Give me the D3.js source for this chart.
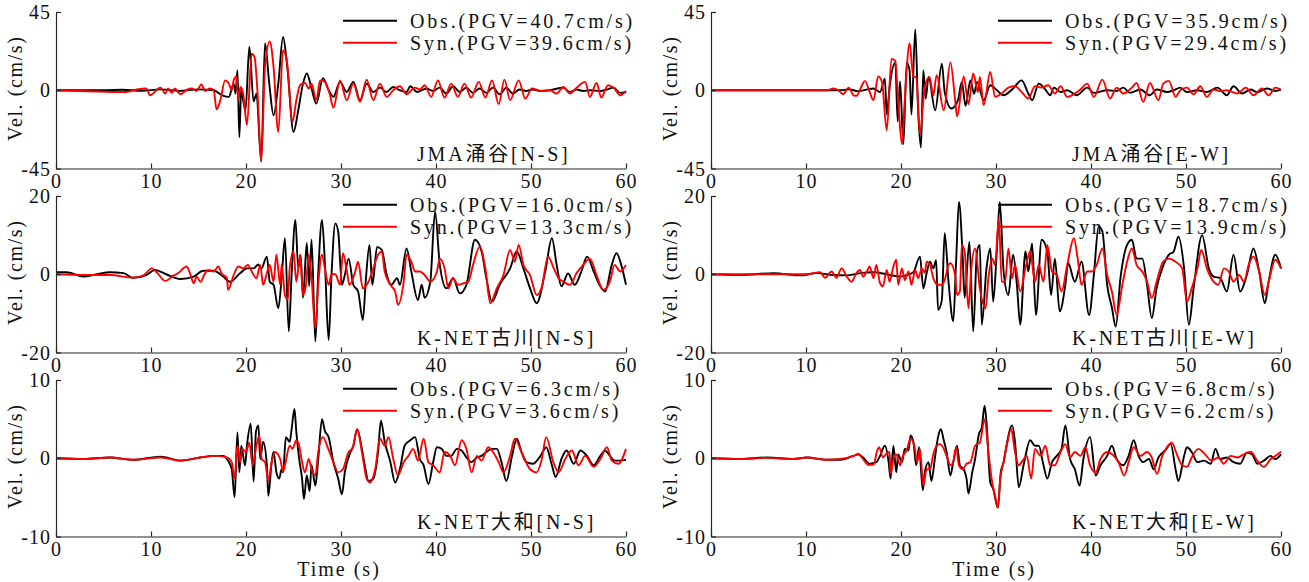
<!DOCTYPE html>
<html>
<head>
<meta charset="utf-8">
<script src="https://cdn.jsdelivr.net/npm/d3@7"></script>
<style>
  body { margin: 0; background: #fff; }
  svg text {
    font-family: "Liberation Serif", "Times New Roman", "Noto Sans CJK JP", serif;
    font-size: 20px;
    fill: #111;
  }
</style>
</head>
<body>
<svg id="chart" width="1309" height="582"></svg>
<script>
// time axis ticks (s)
const xTicks = [0, 10, 20, 30, 40, 50, 60];

// one entry per panel, reading order (row by row, left then right)
const stations = ["JMA涌谷[N-S]", "JMA涌谷[E-W]", "K-NET古川[N-S]", "K-NET古川[E-W]", "K-NET大和[N-S]", "K-NET大和[E-W]"];
const yLimits = [45, 45, 20, 20, 10, 10];
const obsPgv = ["40.7", "35.9", "16.0", "18.7", "6.3", "6.8"];
const synPgv = ["39.6", "29.4", "13.3", "13.9", "3.6", "6.2"];

// velocity traces: [time (s), velocity (cm/s)]
const jmaNsObs = [[0,0],[5,0],[7,0.3],[9,-0.3],[11,0.5],[13,-0.4],[15,0.5],[16.6,0],[17.5,-2.9],[18.2,-3.8],[18.7,3.8],[18.9,-1.9],[19.1,11.5],[19.3,-27],[19.5,1.5],[19.7,-5.7],[19.95,-11.5],[20.35,25],[20.8,-6.5],[21.1,-2],[21.6,-41],[22.0,27],[22.45,3.8],[22.9,-14.4],[23.4,3.8],[23.9,30.6],[24.35,13],[25.0,-24],[25.5,-11.5],[26.0,3.8],[26.4,9.6],[26.9,1],[27.4,-7.7],[28.1,7],[28.7,0],[29.2,-3.8],[29.9,4.8],[30.6,-1],[31.3,4.8],[32.0,-5.7],[32.7,3.8],[33.4,-1],[34.1,1.5],[34.8,-1],[35.5,1.9],[36.2,0],[36.9,-1],[37.3,2.3],[38.0,-1],[39.0,1],[39.7,-0.4],[40.4,1.5],[41.1,-1.9],[41.8,2.3],[42.5,-1],[43.2,1.5],[43.9,-1.5],[44.6,1],[45.3,-1.5],[46.0,1.5],[46.7,-2.3],[47.4,1.5],[48.1,-1.9],[48.8,0.4],[49.5,-0.4],[50.2,0.4],[51.0,-0.4],[52.0,0],[53.4,1.5],[54.1,-1],[54.8,0.4],[55.5,-0.4],[56.2,0],[57.3,-0.4],[58.0,0.4],[58.7,1.5],[59.4,-1.5],[60,-1]];
const jmaNsSyn = [[0,0],[7.4,-1],[8.5,0.4],[9.5,1],[9.9,-2.9],[11.0,1.5],[11.5,-1.9],[11.8,1],[12.2,-1.5],[12.5,1],[13.1,-2.3],[13.8,0.4],[14.3,1],[14.8,-0.4],[15.3,3.4],[15.7,-0.4],[16.2,1],[16.6,0],[16.9,-11],[17.3,-5.7],[17.8,5.7],[18.2,3.8],[18.5,0],[18.7,5.7],[19.0,8],[19.2,-5.7],[19.4,1.9],[19.7,-1.9],[20.1,-20],[20.6,21],[20.9,19],[21.2,0],[21.6,-41],[22.0,13.4],[22.5,28],[22.9,13.4],[23.4,-24],[23.9,23],[24.3,17],[24.9,-18],[25.3,-5.7],[25.7,3],[26.2,4.2],[26.6,1],[26.9,3.8],[27.4,-5.7],[27.8,5.7],[28.3,4.8],[28.8,-1.9],[29.2,-10],[29.9,5.7],[30.6,-5.7],[31.3,3.8],[32.0,-6.7],[32.7,6],[33.4,-5.7],[34.1,3.8],[34.8,-3.8],[35.5,0],[36.2,2.3],[36.9,-2.3],[37.8,1.5],[38.3,0.4],[38.8,2.9],[39.5,-3.8],[40.2,5.7],[40.9,-4.2],[41.6,3.8],[42.3,-3.8],[43.0,3.8],[43.7,-4.2],[44.5,4.8],[45.2,-4.2],[45.9,5.7],[46.6,-8],[47.2,6.1],[47.8,-5.7],[48.7,5.7],[49.4,-4.8],[50.1,1],[51.0,-0.4],[52.0,0],[52.7,-1.9],[53.4,1.9],[54.1,-1.9],[54.8,1.5],[55.7,4.8],[56.2,-3.8],[56.9,4.2],[57.4,-4.2],[58.1,2.9],[58.7,1.5],[59.4,-2.9],[60,-0.4]];

const jmaEwObs = [[0,0],[10,0],[13.6,0],[14.5,0.5],[15.5,-0.5],[16.5,0.5],[17.1,1],[17.8,-1],[18.3,6.7],[18.5,-14],[18.8,1.9],[19.4,16],[19.65,-18],[19.9,5],[20.25,-31],[20.6,16],[20.9,11.5],[21.1,-14],[21.5,35],[21.8,-11.5],[22.1,-33],[22.35,11.5],[22.6,-4.8],[22.9,7.7],[23.6,-11.5],[24.3,15.3],[24.6,-1],[25.3,-10.5],[26.0,-5.7],[26.4,4.8],[26.8,-9],[27.3,5.7],[27.7,-2],[28.0,4.8],[28.7,-5.7],[29.4,2.9],[30.1,0],[30.8,-2.9],[31.8,1],[32.7,5.7],[33.4,-1.9],[33.8,-5.7],[34.5,3.8],[35.2,0.4],[35.7,-2.9],[36.1,1.5],[36.8,-1],[37.5,0],[38.5,-2.9],[39.6,1.5],[40.3,-1.5],[41.7,0],[42.7,-0.4],[43.4,1.5],[44.1,-1.5],[45.2,0.4],[46.2,-2.9],[46.9,0.4],[48.0,-1],[48.7,0],[49.4,1.5],[50.1,-1.1],[51.2,0],[52.2,-1],[53.3,1.5],[54.3,-2.9],[55.0,2.3],[55.9,-1.9],[56.8,0.4],[57.5,-1.1],[58.5,1],[59.4,-0.4],[60,0.4]];
const jmaEwSyn = [[0,0],[12.2,0],[12.9,1],[13.4,0],[13.9,-2.3],[14.5,1.5],[15.0,-2.9],[15.3,-3.2],[15.9,2.9],[16.2,5.4],[16.7,-1],[17.1,-5.7],[17.6,8],[18.0,4.8],[18.5,-23],[19.0,18],[19.4,17],[19.7,-5.7],[20.1,-31],[20.4,-5.7],[20.9,27],[21.3,7.7],[21.6,7.7],[22.0,-25],[22.5,1.9],[23.0,7.7],[23.4,-2.9],[23.75,8.6],[24.5,-11.5],[25.2,16],[25.7,-5.7],[25.9,-15],[26.6,8],[27.1,-8],[27.6,9.6],[28.1,-1],[28.3,7.7],[28.7,-8.6],[29.4,10.5],[29.9,-3.8],[30.6,-1.9],[31.3,1.5],[32.0,2.3],[32.7,-1],[33.4,-4.8],[34.1,2.3],[34.8,1.5],[35.5,2.9],[36.2,-1.9],[36.8,2.3],[37.5,-3.8],[38.3,-1.9],[39.0,1],[39.6,3.8],[40.3,-3.8],[41.2,6.1],[42.0,-4.8],[42.7,1.5],[43.4,-1.9],[44.3,1.5],[44.8,4.2],[45.5,-6.7],[46.2,4.2],[47.1,-5.7],[47.6,3.8],[48.2,5.4],[48.9,-3.8],[49.4,0],[50.1,1.5],[50.8,-2.3],[51.5,2.3],[52.2,-3.8],[52.9,0.4],[53.6,-0.4],[54.3,0],[55.4,-1.9],[56.3,1.5],[57.1,-2.9],[58.0,1],[58.7,-2.9],[59.4,1.5],[60,0.4]];

const furuNsObs = [[0,0.5],[1.1,0.5],[2.9,-0.6],[4.3,0],[5.7,0.5],[7.1,0.3],[8.1,-0.9],[9.5,-0.2],[10.4,1.1],[11.6,0],[13.1,-1.2],[14.5,-0.6],[15.5,0.9],[16.6,0.9],[17.6,-0.6],[18.3,-1.9],[19.4,0.3],[20.1,1.5],[20.8,1.5],[21.3,2.5],[21.6,1.4],[22.2,4.5],[22.5,-1.9],[22.9,-2.7],[23.4,-8.7],[23.75,-1],[24.1,9.2],[24.5,-14.6],[24.8,-0.2],[25.2,13.9],[25.5,1.5],[25.75,4.9],[26.0,-6],[26.4,8],[26.65,-3],[26.9,8.8],[27.3,-17.2],[27.6,0],[28.0,13.9],[28.3,3.2],[28.7,-16.8],[29.0,-0.2],[29.4,13],[29.7,11],[30.1,-2.7],[30.4,-0.2],[30.8,4],[31.3,-2.7],[31.8,-4.4],[32.3,-11.7],[32.6,-1.9],[33.0,7.5],[33.3,-2.7],[33.8,7],[34.3,6.2],[34.8,0],[35.3,-2.7],[35.9,-1],[36.2,-2.7],[36.9,6.6],[37.4,0.7],[38.1,-6.6],[38.5,-2.7],[38.8,-6],[39.4,-1.9],[39.9,16],[40.4,2.4],[41.1,-3.6],[41.8,-1],[42.5,-4.9],[43.2,-2.7],[44.1,8.8],[44.8,5.8],[45.3,-1],[45.9,-7],[46.7,-2.7],[47.8,1.5],[48.5,5.8],[49.2,1.5],[49.9,-3.6],[50.6,-7.4],[51.5,0.7],[52.2,9.2],[52.7,2.4],[53.2,-3.1],[53.9,0.2],[54.6,-2.7],[55.3,0.7],[55.9,4.5],[56.6,0.7],[57.3,-3.1],[57.8,-4.4],[58.5,2.4],[59.0,5.4],[59.5,2.4],[60,-2.7]];
const furuNsSyn = [[0,0],[3.2,-0.2],[5.7,-0.2],[8.1,-0.9],[9.2,-0.3],[10.1,1.5],[10.6,0.5],[11.5,-1.7],[12.4,-0.3],[12.9,0.3],[13.4,1.5],[13.75,2],[14.1,0.3],[14.5,-2.3],[14.8,-0.6],[15.2,-1.9],[15.7,0.3],[16.0,1.1],[16.6,0.7],[17.1,2],[17.4,0.3],[18.0,-1],[18.1,-4],[18.7,-0.2],[19.2,2],[19.7,1.5],[20.2,2.4],[20.6,0.7],[21.1,-1],[21.5,2.4],[21.8,-2.7],[22.2,0.3],[22.5,2.4],[22.9,-1.9],[23.2,5],[23.6,-2.7],[23.75,2.4],[24.1,-5.3],[24.4,-6.5],[24.6,1.5],[25.0,5.8],[25.3,-1.9],[25.7,5],[26.0,-5.3],[26.3,-3],[26.6,5],[26.9,-1],[27.3,-13.8],[27.6,-2.7],[28.0,5],[28.3,1.5],[28.7,-2.7],[29.0,0],[29.4,0],[29.9,-2.7],[30.2,5.4],[30.6,1.1],[30.9,-2.7],[31.5,0.7],[31.8,3.2],[32.3,-3.6],[32.9,-1.9],[33.4,1.5],[33.9,5],[34.3,5.8],[34.6,0.7],[35.2,-2.7],[35.7,-4.4],[36.0,-7.8],[36.6,-1.9],[36.9,5],[37.4,3.2],[37.8,0.7],[38.3,0.7],[38.8,-0.2],[39.4,-1.9],[40.1,0.7],[40.4,4],[40.9,1.5],[41.3,-3.6],[41.8,-1],[42.3,-2.7],[42.9,-2.3],[43.4,-1.9],[43.9,2.4],[44.6,7],[45.2,1.5],[45.7,-7.4],[46.4,-3.6],[47.1,-0.2],[47.8,6.2],[48.3,3.2],[48.7,7.5],[49.2,2.4],[49.9,-0.2],[50.6,-5.3],[51.1,-3.6],[51.8,4.5],[52.4,1.5],[52.9,-1],[53.4,-1.9],[54.1,-2.7],[54.8,0.3],[55.5,2.4],[56.2,4],[56.9,-0.2],[57.6,-4],[58.3,-1.9],[58.8,2.4],[59.4,0.7],[60,2.4]];

const furuEwObs = [[0,0],[3.1,-0.2],[6.6,0.3],[9.4,-0.3],[11.1,0.3],[12.9,-0.2],[14.3,-0.3],[15.7,0.3],[17.1,0.5],[18.5,0],[19.9,-0.6],[20.6,-0.2],[21.3,0.5],[22.0,4.5],[22.35,-3.6],[22.7,0.3],[23.05,3.2],[23.4,1.5],[23.7,3.6],[23.9,-9.1],[24.3,-6.6],[24.6,10.5],[25.0,-1.9],[25.5,-12],[25.8,3.2],[26.1,18.5],[26.5,4],[26.7,-6],[27.2,8.3],[27.6,-14.6],[28.0,5.8],[28.3,7.5],[28.5,-12.9],[29.0,1.5],[29.4,6.6],[29.7,-7],[30.1,6.6],[30.4,18.5],[30.8,0.7],[31.3,-5.3],[31.8,5],[32.2,-2.7],[32.55,-12.9],[33.1,5.8],[33.4,0.7],[33.8,7.9],[34.2,-10.4],[34.8,8.8],[35.4,5.8],[35.8,-5.3],[36.2,4],[36.7,-9.5],[37.3,-2.7],[37.6,2.8],[38.3,-1.9],[39.0,3.2],[39.8,-10.4],[40.3,-0.2],[40.8,12.2],[41.2,10.9],[41.7,-2.7],[42.2,-8.5],[42.6,-13.4],[43.1,-1],[43.8,7.5],[44.3,8.8],[44.8,4],[45.4,4],[45.9,-2.7],[46.4,-11.2],[46.9,-3.6],[47.5,1.5],[48.2,5],[48.7,5.8],[49.2,9.6],[49.8,1.5],[50.3,-12.9],[50.8,-3.6],[51.7,10],[52.4,1.5],[52.9,-0.6],[53.6,-1],[54.3,-4.4],[55.0,5],[55.7,-4.4],[56.4,-0.2],[57.1,6.6],[57.7,0.7],[58.3,-7.4],[58.7,-1.9],[59.4,5],[60,1.5]];
const furuEwSyn = [[0,0],[10.1,0],[11.5,0.5],[12.0,-0.9],[12.7,0.7],[13.2,-0.9],[13.75,1.5],[14.3,-0.6],[14.8,-1.9],[15.3,0.3],[15.7,1.1],[16.0,-0.6],[16.4,0.7],[16.7,2],[17.1,-1],[17.4,2.4],[17.8,-2.3],[18.1,-3.1],[18.5,1.1],[18.8,-1.9],[19.2,2],[19.5,3.7],[19.7,-2.7],[20.1,1.5],[20.4,-1.5],[20.8,0.7],[21.1,-2.7],[21.5,1.1],[21.8,-1],[22.2,1.5],[22.5,0.3],[22.7,3.2],[23.05,2.4],[23.4,-1],[23.9,-2.7],[24.3,-2.7],[24.6,-1.5],[25.0,2.4],[25.2,2.8],[25.7,-0.2],[25.9,-5.3],[26.2,-4.4],[26.4,7.5],[26.7,5.8],[27.1,-8.7],[27.4,1.5],[27.8,6.6],[28.3,-3.6],[28.9,-8.7],[29.2,-1],[29.6,4],[29.9,2.4],[30.3,14.3],[30.6,-1.9],[30.97,-1.9],[31.3,6.6],[31.7,-1],[32.0,2.4],[32.55,-4.4],[33.1,1.5],[33.6,5.8],[34.1,-1.9],[34.5,2.4],[35.0,-1.9],[35.4,7.5],[35.9,0.7],[36.4,-0.2],[36.9,-4.4],[37.5,2.4],[38.2,9.2],[38.6,4],[39.0,-2.7],[39.6,0.7],[40.1,0.7],[40.6,2.4],[41.2,6.6],[41.7,-0.2],[42.2,-4.4],[42.7,-10.4],[43.3,-2.7],[43.8,3.2],[44.3,6.6],[44.8,2.4],[45.4,0.7],[45.9,-1.9],[46.4,-6.1],[46.9,-1.9],[47.6,3.2],[48.2,4],[48.9,3.2],[49.6,1.5],[50.1,-7],[50.6,-3.6],[51.2,1.5],[51.6,6.2],[52.2,1.5],[52.9,-1.9],[53.4,-2.7],[54.0,1.5],[54.5,0.7],[55.0,-1.9],[55.6,-0.2],[56.1,-1.9],[56.6,2.4],[57.1,4.5],[57.7,0.7],[58.3,-5.3],[58.7,-1.9],[59.4,3.7],[60,1.5]];

const yamaNsObs = [[0,0],[2.9,-0.1],[5.7,0.1],[8.1,-0.2],[11.0,0.2],[13.1,-0.3],[15.2,0.1],[16.6,0.3],[17.6,0.3],[18.1,-0.3],[18.5,-1.4],[18.8,-5],[19.1,3.3],[19.3,-1.8],[19.5,1.6],[19.9,-0.9],[20.1,1.6],[20.5,4.4],[20.8,-3],[21.05,3.4],[21.3,4.2],[21.5,-0.1],[21.8,2.1],[22.2,-0.9],[22.35,-4.8],[22.7,-0.5],[22.9,0.8],[23.2,-1.8],[23.5,-2.6],[23.75,-1.4],[23.9,-1.8],[24.2,2.7],[24.6,2.1],[24.8,3.7],[25.1,6.3],[25.3,3.3],[25.6,-0.1],[25.9,-2.6],[26.1,-5.2],[26.4,-2.2],[26.7,-4.2],[26.9,-0.9],[27.3,-3.5],[27.6,-0.1],[28.0,5],[28.3,3.5],[28.7,2.7],[29.2,-0.5],[29.7,-2.6],[30.1,-4.6],[30.4,-1.8],[31.0,0.8],[31.3,1.6],[31.7,3.7],[32.2,1.2],[32.5,-0.9],[32.9,-2.9],[33.4,-2.6],[33.9,0.8],[34.2,4.8],[34.6,2.1],[35.2,-0.5],[35.7,-3.1],[36.2,-1.4],[36.7,1.6],[37.3,2.3],[37.8,2.7],[38.3,-0.1],[38.7,-0.9],[39.2,-3.3],[39.7,-0.5],[40.1,1.4],[40.6,1.2],[41.1,0.3],[41.6,0.3],[42.2,1.2],[42.7,1],[43.2,0.1],[43.75,-0.5],[44.3,0.1],[44.8,0.3],[45.3,0.8],[45.9,1.2],[46.4,1.2],[46.9,-0.5],[47.4,-2.9],[48.0,0.3],[48.5,2.5],[49.0,0.8],[49.5,-0.5],[50.2,-0.7],[51.0,0.3],[51.6,1.4],[52.2,-0.9],[52.6,-2.4],[53.2,-0.1],[53.75,1],[54.5,-0.7],[55.2,1],[55.9,0.3],[56.6,-0.9],[57.3,0.3],[57.8,1],[58.3,0.3],[58.8,-0.3],[59.4,-0.3],[60,-0.2]];
const yamaNsSyn = [[0,0],[2.9,-0.1],[5.7,0.1],[8.1,-0.2],[11.0,0.1],[13.1,-0.3],[15.2,0.1],[16.9,0.3],[18.0,0.1],[18.5,-0.5],[18.8,-2.6],[19.1,1.6],[19.4,-0.5],[19.6,1.2],[20.0,0.8],[20.35,2],[20.7,-0.9],[21.1,1.6],[21.4,2.9],[21.65,-0.1],[22.0,-0.5],[22.35,-2.9],[22.7,-0.5],[23.05,0.8],[23.6,-0.1],[23.9,-1.7],[24.1,-0.9],[24.6,1.6],[24.9,1.2],[25.3,2.3],[25.6,1.6],[25.9,-0.5],[26.2,-1.8],[26.6,-0.1],[26.9,-1.4],[27.3,-2.2],[27.6,0.8],[28.1,2.7],[28.6,1.4],[29.2,-0.5],[29.7,-1.8],[30.2,-1.4],[30.8,0.8],[31.2,1.2],[31.7,3.7],[32.2,0.8],[32.7,-2.6],[33.05,-3.1],[33.6,-1.4],[34.1,2.5],[34.6,1.6],[35.0,2.7],[35.5,-0.1],[36.0,-2.2],[36.6,-0.5],[37.1,0.3],[37.6,1.2],[38.1,-0.3],[38.7,2.5],[39.2,-0.5],[39.7,-0.9],[40.4,-1.8],[40.9,0.8],[41.5,0.3],[42.0,-0.9],[42.7,2.3],[43.2,1.2],[43.75,-1.8],[44.3,0.3],[44.8,-0.3],[45.5,1.4],[46.0,0.8],[46.6,-0.5],[47.1,-1.8],[47.8,0.3],[48.3,2.5],[49.0,0.8],[49.9,-1.4],[50.6,-1.8],[51.1,-0.3],[51.6,2.7],[52.35,-0.5],[52.9,-1.8],[53.6,-0.1],[54.3,1],[55.0,-0.9],[55.7,0.3],[56.6,-1.1],[57.3,-0.1],[58.0,1.4],[58.5,-0.3],[59.2,-0.7],[60,1.2]];

const yamaEwObs = [[0,0],[3.05,-0.1],[5.9,0.1],[8.7,-0.1],[10.1,0.1],[12.2,-0.2],[13.6,-0.2],[15.0,0.3],[15.5,0.5],[16.0,0.1],[16.7,-0.7],[17.4,-0.5],[17.8,0.3],[18.3,1.6],[18.7,-0.5],[18.9,-2.6],[19.2,1.6],[19.5,-1.8],[19.7,0.5],[20.1,-0.5],[20.4,1.2],[20.8,1],[21.0,2.9],[21.3,2.1],[21.6,-0.9],[21.9,1.4],[22.3,-4.1],[22.5,-1.8],[22.9,-0.5],[23.2,-2.9],[23.6,0.3],[23.9,2.7],[24.2,3.7],[24.5,2.3],[24.8,0.8],[25.2,-2.2],[25.5,-0.5],[25.9,1.6],[26.2,-0.9],[26.6,-1.4],[26.9,-2.6],[27.1,-4.5],[27.5,-1.8],[27.8,-0.1],[28.2,3.1],[28.5,3.9],[28.8,6.7],[29.0,4.6],[29.4,-3.1],[29.7,-3.9],[30.2,-6.3],[30.5,-1.8],[30.8,-0.5],[31.1,1.6],[31.7,4.2],[32.0,2.1],[32.4,-3.7],[32.9,-0.9],[33.6,2.3],[34.1,1.6],[34.5,1.6],[35.0,-0.9],[35.4,-2.6],[35.9,-0.5],[36.4,0.3],[36.9,1.2],[37.3,4.2],[37.8,-0.1],[38.3,-1.4],[38.8,-3.5],[39.2,-0.1],[39.9,2.7],[40.5,-2.2],[41.0,-0.9],[41.7,0.3],[42.2,1.6],[42.7,-0.1],[43.4,-0.9],[43.96,0.3],[44.5,2.3],[45.0,0.3],[45.5,-0.5],[46.1,-0.1],[46.6,-1.4],[47.1,0.1],[47.8,1],[48.4,1.8],[48.9,-1.4],[49.2,-2.9],[49.8,0.3],[50.1,1.4],[50.6,0.8],[51.2,-0.5],[51.9,-0.3],[52.6,-0.7],[53.1,1.2],[53.6,-0.1],[54.3,0.1],[55.0,-0.5],[55.7,-0.7],[56.4,0.7],[56.96,0.5],[57.5,-0.7],[58.2,-0.3],[58.9,0.3],[59.4,-0.1],[60,0.5]];
const yamaEwSyn = [[0,0],[3.05,-0.1],[5.9,0.05],[8.7,-0.1],[10.1,0.1],[12.2,-0.2],[13.6,-0.1],[15.0,0.3],[15.5,0.55],[16.0,-0.1],[16.6,-0.85],[17.1,-0.85],[17.5,1],[17.7,1.4],[18.1,0.1],[18.4,0.5],[18.8,0.8],[18.9,-2],[19.2,-0.1],[19.5,0.5],[19.9,-0.9],[20.2,0.3],[20.6,1],[21.0,2.5],[21.4,1.6],[21.7,-0.5],[22.0,1.2],[22.35,-3.5],[22.7,-1.4],[23.05,-1.4],[23.4,0.5],[23.75,1.6],[24.1,1.8],[24.5,1.2],[24.8,0.3],[25.2,-0.9],[25.5,-0.5],[25.8,1.4],[26.1,-0.9],[26.5,-1.4],[26.9,-0.7],[27.3,-0.5],[27.8,1.6],[28.3,2],[28.8,5],[29.2,0.8],[29.6,-3.1],[29.9,-4.8],[30.2,-6.3],[30.45,-2.6],[30.8,-0.5],[31.1,1.4],[31.6,3.7],[32.0,0.8],[32.4,-0.9],[32.7,-0.5],[33.25,0.3],[33.7,-2.6],[34.1,1.2],[34.7,0.3],[35.2,1.6],[35.7,-0.9],[36.2,-0.9],[36.8,0.8],[37.3,1.8],[37.8,0.1],[38.3,0.8],[38.9,0.3],[39.4,1.4],[39.9,-0.9],[40.5,-1.8],[41.0,-0.1],[41.7,0.8],[42.4,0.3],[42.9,-0.5],[43.5,-2.2],[43.96,-0.5],[44.5,1.4],[45.2,0.3],[45.9,0.8],[46.4,0.1],[46.95,-2],[47.5,0.3],[48.0,1.4],[48.5,2],[49.1,0.3],[49.6,-0.9],[50.1,-1.1],[50.6,0.1],[51.3,1.2],[52.0,0.5],[52.7,-0.3],[53.4,0.1],[53.97,-0.7],[54.7,0.3],[55.4,0.1],[56.1,0.5],[56.8,0.85],[57.5,-0.3],[58.2,-1.1],[58.9,-0.1],[59.4,0.3],[60,0.85]];

const obsTraces = [jmaNsObs, jmaEwObs, furuNsObs, furuEwObs, yamaNsObs, yamaEwObs];
const synTraces = [jmaNsSyn, jmaEwSyn, furuNsSyn, furuEwSyn, yamaNsSyn, yamaEwSyn];

// layout
const colX = [[56, 626], [711, 1281]];
const rowY = [[12, 168.5], [196, 352.5], [380, 536.5]];
const axisColor = "#262626";

const svg = d3.select("#chart");
svg.append("rect").attr("width", 1309).attr("height", 582).attr("fill", "#fff");

stations.forEach((station, i) => {
  const col = i % 2;
  const row = Math.floor(i / 2);
  const [left, right] = colX[col];
  const [top, bottom] = rowY[row];
  const lim = yLimits[i];

  const x = d3.scaleLinear().domain([0, 60]).range([left, right]);
  const y = d3.scaleLinear().domain([-lim, lim]).range([bottom, top]);

  const g = svg.append("g").attr("class", "panel");

  const line = d3.line()
    .x(d => x(d[0]))
    .y(d => y(d[1]))
    .curve(d3.curveMonotoneX);

  g.append("path")
    .datum(obsTraces[i])
    .attr("d", line)
    .attr("fill", "none")
    .attr("stroke", "#000")
    .attr("stroke-width", 1.9)
    .attr("stroke-linejoin", "round");

  g.append("path")
    .datum(synTraces[i])
    .attr("d", line)
    .attr("fill", "none")
    .attr("stroke", "#ff0000")
    .attr("stroke-width", 1.9)
    .attr("stroke-linejoin", "round");

  // axes (left and bottom only, ticks pointing inward)
  const xAxis = g.append("g")
    .attr("transform", `translate(0,${bottom})`)
    .call(d3.axisBottom(x).tickValues(xTicks).tickFormat(d => String(d))
      .tickSizeInner(-5).tickSizeOuter(0).tickPadding(5));
  const yAxis = g.append("g")
    .attr("transform", `translate(${left},0)`)
    .call(d3.axisLeft(y).tickValues([-lim, 0, lim]).tickFormat(d => String(d))
      .tickSizeInner(-5).tickSizeOuter(0).tickPadding(5));

  [xAxis, yAxis].forEach(ax => {
    ax.select(".domain").attr("stroke", axisColor).attr("stroke-width", 1.2);
    ax.selectAll(".tick line").attr("stroke", axisColor).attr("stroke-width", 1.2);
    ax.selectAll("text").style("letter-spacing", "1px");
  });
  xAxis.selectAll("text").attr("dy", "0.72em");
  yAxis.selectAll("text").attr("dy", "0.33em");

  // y label
  g.append("text")
    .attr("transform", `translate(${left - 41},${(top + bottom) / 2 - 2}) rotate(-90)`)
    .attr("text-anchor", "middle")
    .attr("dy", "0.35em")
    .style("letter-spacing", "1.6px")
    .text("Vel. (cm/s)");

  // legend
  const legend = [["#000", `Obs.(PGV=${obsPgv[i]}cm/s)`], ["#ff0000", `Syn.(PGV=${synPgv[i]}cm/s)`]];
  legend.forEach(([color, label], k) => {
    const ly = top + 8.7 + k * 22;
    g.append("line")
      .attr("x1", left + 287).attr("x2", left + 341)
      .attr("y1", ly).attr("y2", ly)
      .attr("stroke", color).attr("stroke-width", 1.9);
    g.append("text")
      .attr("x", left + 354).attr("y", ly)
      .attr("dy", "0.35em")
      .style("letter-spacing", "2.8px")
      .text(label);
  });

  // station name
  g.append("text")
    .attr("x", left + 361)
    .attr("y", bottom - 15)
    .attr("dy", "0.35em")
    .style("letter-spacing", "2.8px")
    .text(station);

  if (row === 2) {
    g.append("text")
      .attr("x", left + 283)
      .attr("y", 576)
      .attr("text-anchor", "middle")
      .style("letter-spacing", "2px")
      .text("Time (s)");
  }
});
</script>
</body>
</html>
